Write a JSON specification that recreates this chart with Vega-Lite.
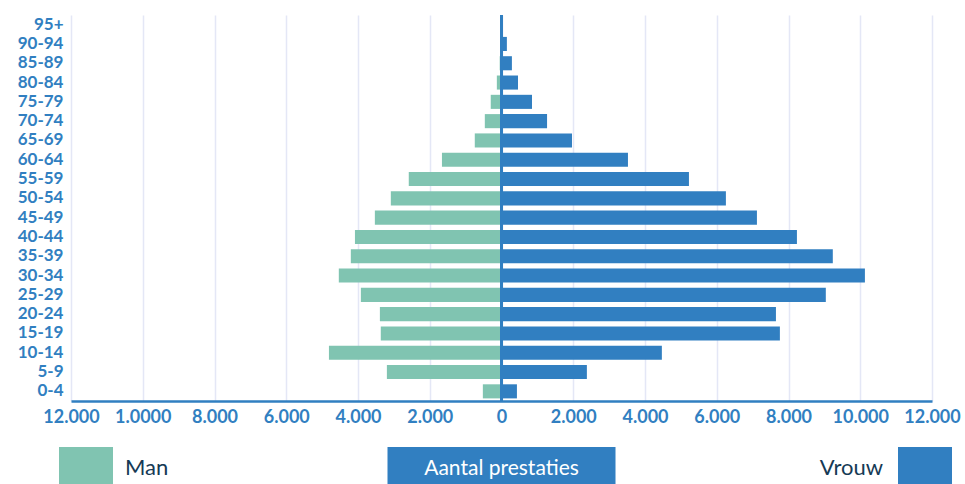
{
  "$schema": "https://vega.github.io/schema/vega-lite/v6.json",
  "padding": {"left": 17, "top": 13, "right": 2, "bottom": 0},
  "background": "white",
  "config": {"view": {"stroke": null}, "font": "Lato"},
  "spacing": 21,
  "vconcat": [
    {
      "width": 861,
      "height": 386,
      "data": {
        "values": [
          {"leeftijd": "95+", "geslacht": "Man", "aantal": 0},
          {"leeftijd": "95+", "geslacht": "Vrouw", "aantal": 30},
          {"leeftijd": "90-94", "geslacht": "Man", "aantal": -15},
          {"leeftijd": "90-94", "geslacht": "Vrouw", "aantal": 150},
          {"leeftijd": "85-89", "geslacht": "Man", "aantal": -50},
          {"leeftijd": "85-89", "geslacht": "Vrouw", "aantal": 290},
          {"leeftijd": "80-84", "geslacht": "Man", "aantal": -130},
          {"leeftijd": "80-84", "geslacht": "Vrouw", "aantal": 460},
          {"leeftijd": "75-79", "geslacht": "Man", "aantal": -300},
          {"leeftijd": "75-79", "geslacht": "Vrouw", "aantal": 850},
          {"leeftijd": "70-74", "geslacht": "Man", "aantal": -465},
          {"leeftijd": "70-74", "geslacht": "Vrouw", "aantal": 1270},
          {"leeftijd": "65-69", "geslacht": "Man", "aantal": -745},
          {"leeftijd": "65-69", "geslacht": "Vrouw", "aantal": 1965},
          {"leeftijd": "60-64", "geslacht": "Man", "aantal": -1660},
          {"leeftijd": "60-64", "geslacht": "Vrouw", "aantal": 3525},
          {"leeftijd": "55-59", "geslacht": "Man", "aantal": -2585},
          {"leeftijd": "55-59", "geslacht": "Vrouw", "aantal": 5225},
          {"leeftijd": "50-54", "geslacht": "Man", "aantal": -3085},
          {"leeftijd": "50-54", "geslacht": "Vrouw", "aantal": 6255},
          {"leeftijd": "45-49", "geslacht": "Man", "aantal": -3530},
          {"leeftijd": "45-49", "geslacht": "Vrouw", "aantal": 7120},
          {"leeftijd": "40-44", "geslacht": "Man", "aantal": -4085},
          {"leeftijd": "40-44", "geslacht": "Vrouw", "aantal": 8235},
          {"leeftijd": "35-39", "geslacht": "Man", "aantal": -4200},
          {"leeftijd": "35-39", "geslacht": "Vrouw", "aantal": 9235},
          {"leeftijd": "30-34", "geslacht": "Man", "aantal": -4535},
          {"leeftijd": "30-34", "geslacht": "Vrouw", "aantal": 10130},
          {"leeftijd": "25-29", "geslacht": "Man", "aantal": -3920},
          {"leeftijd": "25-29", "geslacht": "Vrouw", "aantal": 9040},
          {"leeftijd": "20-24", "geslacht": "Man", "aantal": -3390},
          {"leeftijd": "20-24", "geslacht": "Vrouw", "aantal": 7650},
          {"leeftijd": "15-19", "geslacht": "Man", "aantal": -3365},
          {"leeftijd": "15-19", "geslacht": "Vrouw", "aantal": 7760},
          {"leeftijd": "10-14", "geslacht": "Man", "aantal": -4810},
          {"leeftijd": "10-14", "geslacht": "Vrouw", "aantal": 4470},
          {"leeftijd": "5-9", "geslacht": "Man", "aantal": -3195},
          {"leeftijd": "5-9", "geslacht": "Vrouw", "aantal": 2380},
          {"leeftijd": "0-4", "geslacht": "Man", "aantal": -520},
          {"leeftijd": "0-4", "geslacht": "Vrouw", "aantal": 430}
        ]
      },
      "layer": [
        {
          "mark": {"type": "bar"},
          "encoding": {
            "y": {
              "field": "leeftijd",
              "type": "nominal",
              "sort": ["95+", "90-94", "85-89", "80-84", "75-79", "70-74", "65-69", "60-64", "55-59", "50-54", "45-49", "40-44", "35-39", "30-34", "25-29", "20-24", "15-19", "10-14", "5-9", "0-4"],
              "scale": {"paddingInner": 0.27, "paddingOuter": 0.135},
              "axis": {
                "title": null,
                "domain": false,
                "ticks": false,
                "grid": false,
                "labelFont": "Lato",
                "labelFontWeight": "bold",
                "labelFontSize": 17,
                "labelColor": "#317fc1",
                "labelPadding": 8
              }
            },
            "x": {
              "field": "aantal",
              "type": "quantitative",
              "scale": {"domain": [-12000, 12000], "nice": false},
              "axis": {
                "title": null,
                "values": [-12000, -10000, -8000, -6000, -4000, -2000, 0, 2000, 4000, 6000, 8000, 10000, 12000],
                "labelExpr": "datum.value == -10000 ? '1.0000' : replace(format(abs(datum.value), ','), ',', '.')",
                "grid": true,
                "gridColor": "#e4e7f6",
                "gridWidth": 1.5,
                "domainColor": "#317fc1",
                "domainWidth": 2.5,
                "ticks": false,
                "labelPadding": 7,
                "labelFlush": false,
                "labelOverlap": false,
                "labelFont": "Lato",
                "labelFontWeight": "bold",
                "labelFontSize": 18,
                "labelColor": "#317fc1"
              }
            },
            "color": {
              "field": "geslacht",
              "type": "nominal",
              "scale": {"domain": ["Man", "Vrouw"], "range": ["#80c4b1", "#317fc1"]},
              "legend": null
            }
          }
        },
        {
          "mark": {"type": "rule", "color": "#317fc1", "strokeWidth": 3},
          "encoding": {"x": {"datum": 0}}
        }
      ]
    },
    {
      "width": 861,
      "height": 39,
      "data": {"values": [{"item": "Man"}, {"item": "Aantal prestaties"}, {"item": "Vrouw"}]},
      "encoding": {
        "x": {
          "field": "item",
          "type": "nominal",
          "scale": {"type": "point", "domain": ["Man", "Aantal prestaties", "Vrouw"], "padding": 0},
          "axis": null
        }
      },
      "layer": [
        {
          "transform": [{"filter": "datum.item == 'Man'"}],
          "mark": {"type": "rect", "width": 54, "color": "#80c4b1", "xOffset": 15}
        },
        {
          "transform": [{"filter": "datum.item == 'Vrouw'"}],
          "mark": {"type": "rect", "width": 54, "color": "#317fc1", "xOffset": -7}
        },
        {
          "transform": [{"filter": "datum.item == 'Aantal prestaties'"}],
          "mark": {"type": "rect", "width": 228, "color": "#317fc1"}
        },
        {
          "transform": [{"filter": "datum.item == 'Man'"}],
          "mark": {"type": "text", "align": "left", "baseline": "alphabetic", "dx": 54, "dy": 8, "fontSize": 22, "color": "#163a55", "font": "Lato"},
          "encoding": {"text": {"field": "item"}}
        },
        {
          "transform": [{"filter": "datum.item == 'Vrouw'"}],
          "mark": {"type": "text", "align": "right", "baseline": "alphabetic", "dx": -49, "dy": 8, "fontSize": 22, "color": "#163a55", "font": "Lato"},
          "encoding": {"text": {"field": "item"}}
        },
        {
          "transform": [{"filter": "datum.item == 'Aantal prestaties'"}],
          "mark": {"type": "text", "align": "center", "baseline": "alphabetic", "dy": 8, "fontSize": 21, "color": "white", "font": "Lato"},
          "encoding": {"text": {"field": "item"}}
        }
      ]
    }
  ]
}
